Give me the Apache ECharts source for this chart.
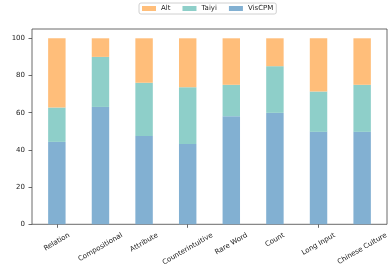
<!DOCTYPE html>
<html><head><meta charset="utf-8">
<script src="https://cdn.jsdelivr.net/npm/echarts@6/dist/echarts.min.js"></script>
<style>html,body{margin:0;padding:0;background:#fff}#c{width:391px;height:268px}</style>
</head><body><div id="c"></div>
<script>
const categories = ['Relation','Compositional','Attribute','Counterintuitive','Rare Word','Count','Long Input','Chinese Culture'];
const visCPM = [44.3, 63.1, 47.5, 43.2, 58.1, 59.9, 49.7, 49.7];
const taiyi  = [18.5, 26.9, 28.6, 30.5, 16.9, 25.1, 21.7, 25.3];
const alt    = [37.2, 10.0, 23.9, 26.3, 25.0, 15.0, 28.6, 25.0];
const yTicks = [0, 20, 40, 60, 80, 100];

const FONT = 'DejaVu Sans';
const TXT = '#222';
const LINE = '#444';
const ctx = document.createElement('canvas').getContext('2d');
ctx.font = '7px "DejaVu Sans"';
const ANG = Math.PI / 6;

// category tick labels, rotated 30deg about their centre like matplotlib
function renderLabel(params, api) {
  const idx = params.dataIndex;
  const name = categories[idx];
  const p = api.coord([api.value(0), 0]);
  const w = ctx.measureText(name).width;
  const h = 8.1;
  const bboxH = w * Math.sin(ANG) + h * Math.cos(ANG);
  return {
    type: 'text',
    x: p[0], y: p[1] + 7 + bboxH / 2,
    rotation: ANG,
    style: { text: name, fill: TXT, font: '7px "DejaVu Sans"', align: 'center', verticalAlign: 'middle' },
    silent: true
  };
}

const chart = echarts.init(document.getElementById('c'), null, { renderer: 'canvas' });
chart.setOption({
  animation: false,
  backgroundColor: '#fff',
  textStyle: { fontFamily: FONT },
  legend: {
    data: ['Alt', 'Taiyi', 'VisCPM'],
    left: 139, top: 3,
    padding: [2, 3],
    itemGap: 12, itemWidth: 14, itemHeight: 5,
    icon: 'rect',
    borderColor: '#d0d0d0', borderWidth: 1, borderRadius: 2,
    backgroundColor: '#fff',
    textStyle: { fontSize: 7, color: TXT, fontFamily: FONT }
  },
  grid: [
    { left: 35.05, right: 7.05, top: 29, bottom: 43.7, outerBoundsMode: 'none', containLabel: false },
    { left: 32, right: 4, top: 29, bottom: 43.7, outerBoundsMode: 'none', containLabel: false,
      show: true, borderColor: LINE, borderWidth: 0.8, backgroundColor: 'transparent' }
  ],
  xAxis: [
    { type: 'category', gridIndex: 0, data: categories, boundaryGap: true,
      axisLine: { show: false },
      axisTick: { show: true, alignWithLabel: true, length: 3.5, lineStyle: { color: LINE, width: 0.8 } },
      axisLabel: { show: false },
      splitLine: { show: false } },
    { type: 'value', gridIndex: 1, show: false, min: 0, max: 1 }
  ],
  yAxis: [
    { type: 'value', gridIndex: 0, min: 0, max: 105, show: false, splitLine: { show: false } },
    { type: 'value', gridIndex: 1, min: 0, max: 105, interval: 20,
      name: 'Percent', nameLocation: 'middle', nameGap: 22, nameRotate: 90,
      nameTextStyle: { fontSize: 7, color: TXT, fontFamily: FONT },
      axisLine: { show: false },
      axisTick: { show: true, length: 3.5, customValues: yTicks, lineStyle: { color: LINE, width: 0.8 } },
      axisLabel: { customValues: yTicks, margin: 7, fontSize: 7, color: TXT, fontFamily: FONT },
      splitLine: { show: false } }
  ],
  series: [
    { name: 'VisCPM', type: 'bar', stack: 'all', xAxisIndex: 0, yAxisIndex: 0, data: visCPM,
      barWidth: '40%', itemStyle: { color: '#82B0D2' } },
    { name: 'Taiyi', type: 'bar', stack: 'all', xAxisIndex: 0, yAxisIndex: 0, data: taiyi,
      barWidth: '40%', itemStyle: { color: '#8ECFC9' } },
    { name: 'Alt', type: 'bar', stack: 'all', xAxisIndex: 0, yAxisIndex: 0, data: alt,
      barWidth: '40%', itemStyle: { color: '#FFBE7A' } },
    { name: 'labels', type: 'custom', xAxisIndex: 0, yAxisIndex: 0, clip: false, silent: true,
      data: categories.map(c => [c, 0]), renderItem: renderLabel, tooltip: { show: false } }
  ]
});
</script></body></html>
